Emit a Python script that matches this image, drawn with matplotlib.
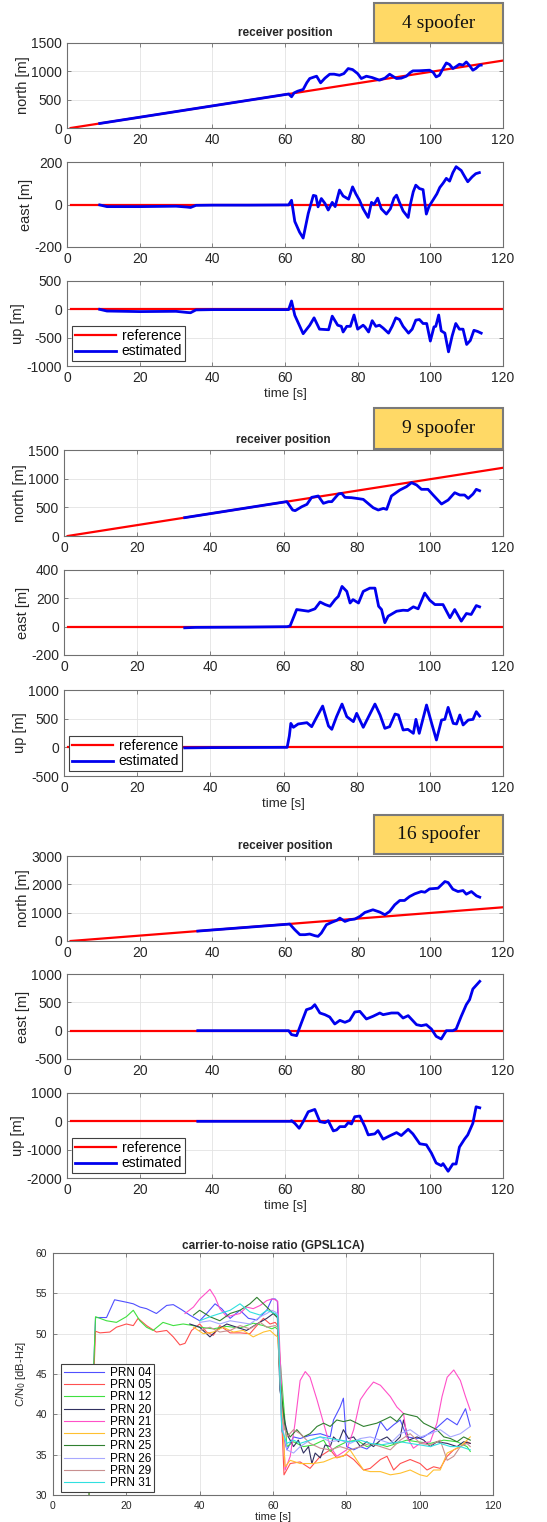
import matplotlib
matplotlib.use('Agg')
import matplotlib.pyplot as plt
from matplotlib.patches import Rectangle
import numpy as np

plt.rcParams['font.family'] = ['Liberation Sans', 'DejaVu Sans']
plt.rcParams['axes.unicode_minus'] = False

W, H = 547, 1522

# reference trajectory (straight line north, zero east/up)
ref_t = [1, 120]
ref_north = [0, 1190]
ref_flat = [0, 0]

# ---- 4 spoofer ----
est4_north = [(9, 80), (61, 600), (61.8, 551), (62.5, 620), (63.5, 650), (65, 680), (66, 800), (66.8, 873),
              (68, 900), (68.7, 914), (69.8, 797), (71, 880), (72.3, 949), (73.5, 950), (75, 931), (76.2, 960),
              (77.4, 1049), (78.6, 1031), (80, 960), (81, 873), (82.4, 914), (84, 890), (86, 844), (87.5, 880),
              (88.8, 949), (90, 900), (90.7, 873), (92, 880), (93.4, 914), (94.5, 980), (95.2, 1008), (97, 1010),
              (99.8, 1020), (100.8, 980), (101.6, 902), (102.5, 930), (103.5, 1050), (104.4, 1148), (105.3, 1120),
              (106.2, 1049), (107, 1080), (108, 1125), (109, 1110), (109.9, 1166), (110.8, 1100), (111.7, 1020),
              (112.5, 1050), (113.5, 1107), (114, 1110)]
est4_east = [(9, -2), (11, -10), (20, -10), (30, -8), (33, -12), (34, -14), (35.5, -4), (40, -3), (50, -3),
             (61, -2), (61.8, 20), (62.7, -80), (64, -130), (65, -158), (66.4, -42), (67.8, 43), (68.5, 40),
             (69.1, -11), (70, 28), (71, 5), (71.9, -26), (73, 10), (73.8, -10), (75, 68), (76, 40), (77.5, 25),
             (78.6, 83), (79.5, 50), (80.5, 20), (81.5, -20), (82.9, -61), (83.8, 10), (84.5, 0), (85.5, 30),
             (86.5, -20), (87.9, -45), (89, -20), (90, 30), (90.7, 44), (91.5, 10), (92.5, -30), (93.9, -61),
             (94.5, 0), (95.3, 60), (96, 91), (97, 75), (98, 70), (98.9, -45), (99.6, -10), (100.7, 20),
             (101.8, 50), (102.6, 80), (103.5, 100), (104.4, 123), (105.3, 110), (106.2, 150), (107.1, 178),
             (108.5, 160), (109.5, 130), (110.3, 107), (111.5, 130), (112.5, 145), (113.5, 150)]
est4_up = [(9, 0), (11, -30), (20, -40), (30, -35), (33, -55), (34, -60), (35.5, -10), (40, -5), (61, -5),
           (61.8, 147), (62.7, -106), (65, -430), (66.8, -282), (68, -150), (69.5, -350), (72, -360), (73, -120),
           (74.5, -280), (75.5, -300), (76, -400), (77, -300), (78, -300), (79, -100), (80, -350), (81.5, -280),
           (82, -310), (83, -400), (84, -200), (85, -300), (86, -280), (87, -330), (88.5, -420), (89.5, -300),
           (90.5, -150), (91.5, -180), (92.5, -300), (94, -420), (95, -350), (96, -190), (97, -180), (98, -250),
           (99, -250), (100, -560), (101, -310), (101.5, -300), (102.3, -100), (103, -380), (104, -420),
           (105, -750), (106, -470), (107, -250), (108, -350), (109, -350), (110, -620), (111, -550),
           (112, -370), (113, -390), (114, -420)]

# ---- 9 spoofer ----
est9_north = [(33, 320), (60.9, 600), (62.5, 453), (63.2, 442), (65, 511), (66.4, 552), (67.7, 674), (69.5, 698),
              (70.9, 570), (72.3, 599), (73.2, 599), (75, 732), (75.9, 744), (76.8, 674), (78.6, 668), (80, 656),
              (81.8, 639), (84.5, 494), (85.9, 453), (87.3, 482), (88.2, 464), (89.5, 698), (91.8, 802),
              (93.6, 860), (95, 930), (96.4, 889), (97.7, 814), (99.5, 814), (100.9, 715), (103.2, 558),
              (105, 627), (106.8, 755), (108.2, 715), (109.5, 715), (110.5, 656), (111.8, 732), (112.7, 814),
              (113.6, 790)]
est9_east = [(33, -8), (36, -5), (50, -3), (61, 0), (61.8, 5), (63.6, 121), (65.5, 114), (66.8, 109),
             (68.6, 126), (70, 174), (71.4, 156), (72.7, 144), (74.1, 191), (75, 214), (76, 284), (77.3, 249),
             (78.2, 167), (79, 191), (80.5, 167), (81.8, 249), (83.6, 272), (85, 272), (86, 144), (86.8, 121),
             (87.7, 28), (88.6, 74), (90.9, 109), (92.7, 116), (94, 114), (95.5, 140), (96.8, 126), (98.6, 237),
             (100, 186), (101.4, 156), (103.6, 156), (105.5, 63), (106.8, 121), (108.6, 39), (110, 93),
             (111.3, 86), (112.7, 149), (113.6, 140)]
est9_up = [(33, -10), (40, -5), (61, 0), (61.6, 200), (62, 418), (62.7, 349), (64, 407), (66.4, 430),
           (67.7, 360), (68.9, 506), (70.7, 720), (72.3, 372), (73.2, 314), (74.5, 535), (76, 755), (77.3, 535),
           (79.1, 448), (80, 593), (81.8, 349), (85, 755), (86.4, 564), (87.7, 331), (89, 360), (90.5, 581),
           (91.4, 564), (92.7, 302), (94, 314), (95.5, 244), (96.2, 488), (97.1, 244), (99.1, 738), (100.5, 418),
           (101.8, 128), (103.2, 476), (104.1, 488), (105, 697), (106.4, 418), (107.3, 407), (108.2, 564),
           (109.1, 390), (110.5, 476), (111.8, 488), (112.7, 622), (113.6, 546)]

# ---- 16 spoofer ----
est16_north = [(36, 350), (61.3, 598), (62.7, 398), (64.1, 223), (65.5, 223), (66.8, 246), (68.2, 188),
               (69.1, 164), (70, 281), (71.4, 574), (72.8, 656), (74.2, 727), (75.1, 808), (76.5, 691),
               (77.8, 750), (79.2, 773), (80.6, 867), (82, 1008), (84.2, 1102), (86.1, 1020), (87.5, 926),
               (88.8, 1043), (90.2, 1277), (91.6, 1430), (92.9, 1430), (94.3, 1570), (95.7, 1664), (97.5, 1746),
               (98.5, 1722), (99.8, 1840), (102.1, 1863), (104, 2098), (104.9, 2063), (106.2, 1828),
               (107.6, 1746), (109, 1781), (109.9, 1652), (111.3, 1746), (112.7, 1594), (113.6, 1547)]
est16_east = [(36, 0), (61, 0), (61.8, -70), (63.2, -88), (64.5, 135), (65.9, 370), (67.3, 400), (68.2, 459),
              (69.6, 312), (71, 282), (72.3, 241), (73.7, 118), (75.1, 182), (76.5, 147), (77.8, 182),
              (79.2, 329), (80.6, 341), (82.4, 206), (84.2, 253), (86.1, 312), (87, 282), (89.3, 312),
              (91.1, 312), (92.5, 223), (93.9, 265), (96.2, 106), (97.5, 88), (98.9, 106), (100.3, 29),
              (101.6, -100), (103, -147), (104.4, 0), (106.2, 0), (107.1, 29), (108.5, 253), (109.9, 459),
              (110.8, 547), (111.7, 735), (113.6, 870)]
est16_up = [(36, 0), (61.5, 0), (61.8, 23), (62.7, -70), (63.9, -245), (65, -12), (66.4, 338), (68.2, 420),
            (69.6, -12), (71, -47), (71.9, 23), (73.3, -338), (74.2, -303), (75.1, -187), (76.5, -187),
            (77.4, -47), (78.3, -93), (79.2, 163), (80.6, 187), (82, -187), (82.9, -478), (84.7, -443),
            (85.6, -327), (87, -630), (88.8, -513), (90.7, -397), (92, -502), (93.9, -280), (95.2, -443),
            (97.1, -793), (98.9, -828), (100.3, -1120), (101.6, -1470), (103, -1563), (103.5, -1493),
            (104.9, -1762), (106.2, -1505), (107.1, -1505), (108, -910), (109.4, -630), (110.3, -478),
            (111.7, -70), (112.6, 513), (113.6, 478)]

blocks = [
    ('4 spoofer', est4_north, est4_east, est4_up, (0, 1500), (-200, 200), (-1000, 500)),
    ('9 spoofer', est9_north, est9_east, est9_up, (0, 1500), (-200, 400), (-500, 1000)),
    ('16 spoofer', est16_north, est16_east, est16_up, (0, 3000), (-500, 1000), (-2000, 1000)),
]
yticks = [
    ([0, 500, 1000, 1500], [-200, 0, 200], [-1000, -500, 0, 500]),
    ([0, 500, 1000, 1500], [-200, 0, 200, 400], [-500, 0, 500, 1000]),
    ([0, 1000, 2000, 3000], [-500, 0, 500, 1000], [-2000, -1000, 0, 1000]),
]

# ---- C/N0 ----
prn_names = ['PRN 04', 'PRN 05', 'PRN 12', 'PRN 20', 'PRN 21', 'PRN 23', 'PRN 25', 'PRN 26', 'PRN 29', 'PRN 31']
prn_colors = ['#5050ff', '#ff5050', '#40e040', '#303060', '#ff50c8', '#ffc030', '#308030', '#a8a8ff',
              '#c89090', '#30e0e0']
prn04 = [(9.5, 26), (11.6, 52), (12.8, 52.0), (14.6, 52.0), (16.8, 54.2), (20, 53.9), (21.9, 53.7), (23.7, 53.3),
         (25.5, 53.1), (28.2, 52.5), (31, 53.5), (32.8, 53.6), (35, 53.0), (37.3, 52.3), (40, 51.6), (41.9, 52.5),
         (44.2, 53.7), (46, 53.1), (48.3, 51.9), (51, 52.9), (53.3, 51.9), (55.6, 51.7), (58.3, 52.9),
         (59.7, 54.3), (60.6, 54.3), (61.2, 54.0), (62.4, 38.0), (63.8, 35.6), (65.6, 37.2), (67.4, 37.0),
         (70.1, 37.4), (72.9, 37.6), (75.6, 37.2), (76.5, 39.3), (78.3, 40.9), (79.2, 42.0), (80.1, 36.0),
         (82, 35.6), (83.8, 36.0), (85.6, 35.7), (87.4, 36.4), (89.3, 39.1), (91.1, 38.0), (92.9, 38.7),
         (94.7, 39.3), (96.5, 37.2), (99.3, 37.0), (101.1, 37.2), (103.8, 38.0), (107.5, 39.5), (110.2, 38.7),
         (112.5, 40.7), (113.8, 38.5)]
prn05 = [(9.5, 26), (11.6, 50.3), (12.8, 50.1), (15.5, 50.2), (17.3, 50.8), (20, 51.2), (21.9, 51.0), (23.2, 51.9),
         (25.5, 51.0), (28.2, 50.2), (31, 50.4), (32.8, 49.6), (34.6, 48.6), (36, 48.8), (37.8, 50.4), (40, 51.2),
         (41.9, 50.2), (43.7, 49.8), (45.5, 51.0), (48.3, 50.1), (51, 50.1), (53.7, 50.0), (55.6, 51.0),
         (57.4, 51.9), (59.2, 51.2), (60.6, 51.4), (61.3, 51.0), (63, 32.5), (64.7, 33.9), (67.4, 34.1),
         (70.1, 33.3), (72.9, 34.8), (75.6, 35.6), (77.4, 34.6), (80.1, 35.0), (82, 34.4), (84.7, 33.1),
         (86.5, 33.3), (89.3, 34.4), (91.1, 34.8), (92.9, 33.1), (94.7, 33.9), (97.4, 34.4), (100.1, 33.9),
         (102, 33.1), (103.8, 33.5), (105.6, 33.3), (107.5, 34.8), (109.3, 35.6), (111.1, 36.0), (112.9, 36.6),
         (113.8, 36.4)]
prn12 = [(9.5, 26), (11.6, 52.1), (12.8, 51.9), (14.6, 51.6), (17.3, 51.4), (20, 52.1), (21.9, 52.9), (23.7, 51.6),
         (25.5, 50.8), (27.3, 50.4), (30, 51.4), (32.8, 51.0), (35.5, 51.2), (38.3, 51.0), (40, 50.8),
         (43.7, 50.6), (47.4, 50.9), (51, 50.7), (54.6, 51.3), (57.4, 51.0), (59.7, 50.6), (60.6, 50.8),
         (61.3, 50.5), (63.8, 36.0), (65.6, 36.6), (68.3, 36.0), (71, 36.2), (73.8, 36.8), (75.6, 35.4),
         (77.4, 36.0), (80.1, 36.6), (82.9, 36.8), (85.6, 36.0), (88.3, 36.4), (91.1, 36.0), (93.8, 36.4),
         (96.5, 36.8), (99.3, 36.6), (102.9, 36.4), (106.6, 36.8), (110.2, 36.6), (112.9, 36.0), (113.8, 35.4)]
prn20 = [(37.3, 51.2), (40, 50.8), (42.8, 49.6), (44.6, 50.4), (47.4, 51.2), (50.1, 50.8), (52.8, 50.4),
         (55.6, 51.2), (58.3, 51.9), (60.1, 52.5), (61.2, 52.0), (61.9, 43.0), (63.3, 38.9), (64.2, 37.2),
         (65.6, 36.0), (66.9, 36.8), (68.3, 35.2), (69.7, 36.0), (70.6, 33.9), (71.5, 35.2), (72.9, 34.6),
         (74.2, 36.2), (75.6, 36.0), (76.5, 37.2), (77.9, 36.6), (79.2, 38.1), (80.6, 37.0), (82, 37.2),
         (83.8, 36.0), (85.6, 36.6), (87.4, 36.0), (89.3, 36.8), (91.1, 37.2), (92.9, 36.4), (94.7, 37.2),
         (95.6, 39.3), (97, 36.8), (99.3, 37.2), (101.1, 36.8), (102.9, 36.0), (104.7, 36.6), (107.5, 36.4),
         (110.2, 36.0), (112, 36.6), (113.8, 36.4)]
prn21 = [(36, 52.5), (38.3, 53.3), (40, 54.3), (41.9, 55.1), (42.8, 55.5), (44.2, 54.5), (45.5, 53.1), (47.4, 52.1),
         (49.2, 52.3), (51, 52.5), (52.8, 53.3), (54.6, 53.1), (56.5, 53.5), (58.3, 54.1), (59.7, 54.3),
         (60.6, 54.2), (61.3, 54.0), (63.3, 33.1), (64.7, 34.8), (66, 38.9), (67.4, 44.2), (68.8, 45.3),
         (70.1, 44.6), (72, 41.8), (73.8, 38.9), (75.6, 36.0), (77.4, 34.8), (80.1, 35.6), (82, 38.1),
         (83.8, 41.8), (85.6, 43.0), (87.4, 44.0), (89.3, 43.6), (92, 42.2), (93.8, 40.9), (95.6, 40.1),
         (96.5, 37.2), (98.3, 35.8), (100.1, 36.4), (102.9, 36.6), (104.7, 38.9), (106.1, 42.2), (107.5, 44.6),
         (109.3, 45.5), (111.1, 44.2), (112.5, 42.2), (113.8, 40.5)]
prn23 = [(38.3, 50.8), (41, 50.0), (43.7, 50.2), (46.4, 50.8), (49.2, 50.2), (51.9, 50.4), (54.6, 49.6),
         (57.4, 50.2), (59.2, 50.4), (60.6, 49.8), (61.3, 49.6), (63.3, 33.5), (64.7, 34.3), (67.4, 33.9),
         (71, 33.9), (73.8, 34.1), (76.5, 34.6), (79.2, 34.8), (81, 35.6), (82.9, 34.3), (84.7, 33.1),
         (86.5, 32.9), (89.3, 32.9), (92, 32.5), (94.7, 32.7), (97.4, 33.1), (100.1, 32.5), (102, 32.3),
         (103.8, 33.1), (105.6, 33.1), (107.5, 35.2), (109.3, 35.6), (111.1, 36.0), (112.9, 36.8), (113.8, 37.2)]
prn25 = [(38.3, 52.3), (40, 52.9), (42.8, 52.1), (45.5, 51.6), (48.3, 52.5), (51, 52.9), (53.7, 53.7), (55.6, 54.5),
         (57.4, 53.7), (59.2, 52.9), (60.6, 52.3), (61.3, 52.0), (61.9, 44.6), (63.3, 38.1), (64.7, 37.2),
         (66.5, 38.1), (68.3, 37.2), (70.1, 37.6), (72, 38.5), (73.8, 38.9), (75.6, 38.5), (77.4, 39.3),
         (79.2, 39.1), (81.1, 39.3), (82.9, 38.9), (84.7, 38.5), (86.5, 38.7), (88.3, 38.9), (90.2, 39.3),
         (92, 39.7), (93.8, 39.1), (95.6, 40.1), (97.4, 39.9), (99.3, 39.7), (101.1, 38.9), (102.9, 38.5),
         (104.7, 38.1), (106.6, 37.2), (108.4, 37.0), (110.2, 36.6), (112, 37.2), (113.8, 36.8)]
prn26 = [(40, 51.4), (42.8, 51.6), (45.5, 51.2), (48.3, 51.6), (51, 51.4), (53.7, 51.2), (56.5, 52.1), (58.3, 52.5),
         (59.7, 52.9), (60.6, 52.7), (61.3, 52.4), (62.4, 38.9), (63.8, 35.6), (65.6, 35.2), (67.4, 36.0),
         (70.1, 36.8), (72.9, 37.2), (75.6, 36.6), (78.3, 36.8), (81.1, 36.4), (83.8, 37.0), (86.5, 37.2),
         (89.3, 36.8), (92, 36.4), (94.7, 37.6), (97.4, 38.1), (100.2, 37.2), (102.9, 37.6), (105.6, 38.1),
         (108.4, 37.2), (111.1, 37.6), (113.8, 38.5)]
prn29 = [(40, 50.4), (42.8, 50.8), (45.5, 50.2), (48.3, 50.4), (51, 51.0), (53.7, 50.6), (56.5, 51.4), (58.3, 50.8),
         (60.6, 51.0), (61.3, 50.8), (62.4, 39.7), (63.8, 37.2), (65.6, 38.1), (67.4, 37.6), (70.1, 36.4),
         (72.9, 35.8), (75.6, 35.6), (78.3, 36.0), (81.1, 35.6), (83.8, 36.0), (86.5, 36.4), (89.3, 36.0),
         (92, 35.6), (94.7, 36.8), (97.4, 37.6), (100.2, 36.4), (102.9, 36.2), (105.6, 36.8), (107.5, 34.3),
         (109.3, 34.8), (111.1, 36.0), (112.9, 36.4), (113.8, 36.0)]
prn31 = [(40, 51.6), (42.8, 52.1), (45.5, 52.5), (48.3, 52.9), (51, 53.7), (53.7, 52.7), (56.5, 52.3), (58.3, 52.9),
         (60.6, 52.5), (61.3, 52.2), (62.4, 38.1), (63.8, 36.4), (65.6, 36.8), (67.4, 36.4), (70.1, 36.8),
         (72.9, 37.2), (75.6, 37.0), (78.3, 36.8), (81.1, 36.6), (83.8, 36.8), (86.5, 36.4), (89.3, 36.2),
         (92, 36.4), (94.7, 36.6), (97.4, 36.4), (100.2, 36.2), (102.9, 36.0), (105.6, 36.4), (108.4, 36.0),
         (111.1, 36.0), (113.8, 35.6)]
prn_data = [prn04, prn05, prn12, prn20, prn21, prn23, prn25, prn26, prn29, prn31]

# pixel layout
block_left = [67, 64, 67]
block_rows = [[(43, 128), (162, 247), (281, 366)],
              [(450, 536), (570, 655), (690, 776)],
              [(856, 941), (974, 1059), (1093, 1178)]]
label_boxes = [(3, 43), (408, 449), (815, 854)]
axes_right = 503
spine_col = '#707070'
grid_col = '#e3e3e3'
txt_col = '#262626'


def px_axes(fig, l, t, r, b):
    return fig.add_axes([l / W, 1 - b / H, (r - l) / W, (b - t) / H])


def matlab_style(ax, fs, pad):
    for s in ax.spines.values():
        s.set_color(spine_col)
        s.set_linewidth(0.8)
    ax.tick_params(direction='in', top=True, right=True, length=3, width=0.6, color=spine_col,
                   labelsize=fs, labelcolor=txt_col, pad=pad)
    ax.grid(True, color=grid_col, linewidth=0.6)
    ax.set_axisbelow(True)


fig = plt.figure(figsize=(W / 100, H / 100), dpi=100)

for bi, (name, en, ee, eu, yl_n, yl_e, yl_u) in enumerate(blocks):
    series = [(en, ref_north, yl_n, 'north [m]'), (ee, ref_flat, yl_e, 'east [m]'), (eu, ref_flat, yl_u, 'up [m]')]
    for ri, (est, ref, ylim, ylab) in enumerate(series):
        top, bot = block_rows[bi][ri]
        ax = px_axes(fig, block_left[bi], top, axes_right, bot)
        matlab_style(ax, 10, 3.5)
        ax.plot(ref_t, ref, color='#ff0000', linewidth=1.6, label='reference')
        et, ev = zip(*est)
        ax.plot(et, ev, color='#0000ee', linewidth=2.0, label='estimated')
        ax.set_xlim(0, 120)
        ax.set_ylim(*ylim)
        ax.set_xticks(range(0, 121, 20))
        ax.set_yticks(yticks[bi][ri])
        ax.set_ylabel(ylab, fontsize=10.5, color=txt_col, labelpad=1)
        if ri == 0:
            ax.set_title('receiver position', fontsize=8.5, fontweight='bold', color=txt_col, pad=5)
        if ri == 2:
            ax.set_xlabel('time [s]', fontsize=9.5, color=txt_col, labelpad=2)
            leg = ax.legend(loc='lower left', fontsize=10, handlelength=3.0, borderpad=0.2, labelspacing=0.1,
                            borderaxespad=0.35, fancybox=False, framealpha=1, handletextpad=0.4)
            leg.get_frame().set_edgecolor('#404040')
            leg.get_frame().set_linewidth(0.8)

    bt, bb = label_boxes[bi]
    fig.add_artist(Rectangle((374 / W, 1 - bb / H), (axes_right - 374) / W, (bb - bt) / H,
                             transform=fig.transFigure, facecolor='#ffd966', edgecolor='#7a7a7a', linewidth=1.5))
    fig.text((374 + axes_right) / 2 / W, 1 - (bt + bb) / 2 / H, name, ha='center', va='center',
             fontsize=14, family='Liberation Serif', color='#111111')

# carrier-to-noise plot
ax = px_axes(fig, 53, 1253, 493, 1495)
matlab_style(ax, 7.5, 4)
for name, col, d in zip(prn_names, prn_colors, prn_data):
    t, v = zip(*d)
    ax.plot(t, v, color=col, linewidth=0.8, label=name)
ax.set_xlim(0, 120)
ax.set_ylim(30, 60)
ax.set_xticks(range(0, 121, 20))
ax.set_yticks(range(30, 61, 5))
ax.set_title('carrier-to-noise ratio (GPSL1CA)', fontsize=8.5, fontweight='bold', color=txt_col, pad=3)
ax.set_xlabel('time [s]', fontsize=8, color=txt_col, labelpad=1)
ax.set_ylabel('C/N$_0$ [dB-Hz]', fontsize=8, color=txt_col, labelpad=6)
leg = ax.legend(loc='lower left', bbox_to_anchor=(0.018, 0.012), fontsize=8.5, handlelength=3.4, borderpad=0.25,
                labelspacing=0.02, borderaxespad=0, fancybox=False, framealpha=1, handletextpad=0.5)
leg.get_frame().set_edgecolor('#404040')
leg.get_frame().set_linewidth(0.8)

fig.savefig('out.png', dpi=100)
